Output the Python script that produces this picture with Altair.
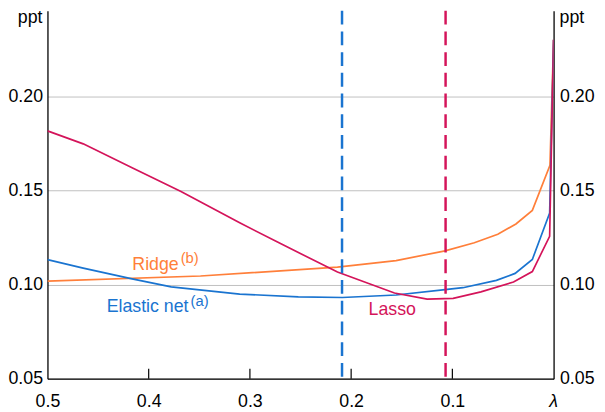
import altair as alt
import pandas as pd

# ---- data ----
lasso_lambda = [0.5, 0.4647, 0.4164, 0.3681, 0.3101, 0.2747, 0.2135, 0.1572, 0.1249, 0.0992, 0.0718, 0.0396, 0.0210, 0.0039, 0.0]
lasso_value = [0.1818, 0.1749, 0.1622, 0.1495, 0.1329, 0.1232, 0.1067, 0.0956, 0.0923, 0.0927, 0.0962, 0.1014, 0.1070, 0.1257, 0.2302]

enet_lambda = [0.5, 0.4647, 0.4164, 0.3778, 0.3101, 0.2522, 0.2087, 0.1556, 0.1072, 0.0896, 0.0565, 0.0380, 0.0210, 0.0039, 0.0]
enet_value = [0.1133, 0.1088, 0.1031, 0.0988, 0.0950, 0.0935, 0.0932, 0.0945, 0.0974, 0.0984, 0.1023, 0.1060, 0.1134, 0.1381, 0.2302]

ridge_lambda = [0.5, 0.3488, 0.2135, 0.1556, 0.1072, 0.0783, 0.0551, 0.0372, 0.0210, 0.0036, 0.0]
ridge_value = [0.1019, 0.1046, 0.1093, 0.1128, 0.1180, 0.1223, 0.1268, 0.1323, 0.1395, 0.1635, 0.2302]

cv_lambda_enet = [0.209]
cv_lambda_lasso = [0.1067]

x_ticks = [0.5, 0.4, 0.3, 0.2, 0.1]
x_inner_ticks = [0.4, 0.3, 0.2, 0.1]
y_ticks = [0.05, 0.10, 0.15, 0.20]

BLUE = "#1a74d0"
RED = "#d4145a"
ORANGE = "#ff7f3a"
FONT = "Liberation Sans"

W, H = 513, 373
y_top = 0.05 + H / 1906.0

xs = alt.Scale(domain=[0, 0.5], reverse=True, nice=False, zero=False)
ys = alt.Scale(domain=[0.05, y_top], nice=False, zero=False)

lasso_df = pd.DataFrame({"lam": lasso_lambda, "val": lasso_value})
enet_df = pd.DataFrame({"lam": enet_lambda, "val": enet_value})
ridge_df = pd.DataFrame({"lam": ridge_lambda, "val": ridge_value})

x_axis = alt.Axis(
    values=x_ticks, format=".1f",
    ticks=False, grid=False, domainColor="black", domainWidth=1.3,
    labelPadding=14, labelFontSize=18, labelFont=FONT, labelColor="black",
    labelFlush=False, labelOverlap=False, title=None,
)
y_axis_left = alt.Axis(
    values=y_ticks, format=".2f", ticks=False, grid=True, gridColor="#c0c0c0", gridWidth=1,
    domainColor="black", domainWidth=1.3, labelPadding=5, labelFontSize=18, labelFont=FONT,
    labelColor="black", title=None, labelOverlap=False,
)
y_axis_right = alt.Axis(
    values=y_ticks, format=".2f", ticks=False, grid=False, orient="right",
    domainColor="black", domainWidth=1.3, labelPadding=6, labelFontSize=18, labelFont=FONT,
    labelColor="black", title=None, labelOverlap=False,
)


def line(df, color):
    return alt.Chart(df).mark_line(color=color, strokeWidth=1.7, clip=True).encode(
        x=alt.X("lam:Q", scale=xs, axis=x_axis),
        y=alt.Y("val:Q", scale=ys, axis=y_axis_left),
    )


ridge = line(ridge_df, ORANGE)
enet = line(enet_df, BLUE)
lasso = line(lasso_df, RED)

rule_enet = alt.Chart(pd.DataFrame({"lam": cv_lambda_enet})).mark_rule(
    color=BLUE, strokeWidth=2.5, strokeDash=[14, 7]
).encode(x=alt.X("lam:Q", scale=xs, axis=x_axis))
rule_lasso = alt.Chart(pd.DataFrame({"lam": cv_lambda_lasso})).mark_rule(
    color=RED, strokeWidth=2.5, strokeDash=[14, 7]
).encode(x=alt.X("lam:Q", scale=xs, axis=x_axis))

inner_ticks = alt.Chart(pd.DataFrame({"lam": x_inner_ticks})).mark_rule(
    color="black", strokeWidth=1.2
).encode(x=alt.X("lam:Q", scale=xs, axis=x_axis), y=alt.value(H - 10), y2=alt.value(H))


def label(text, x, y, color, size=18, align="left", style="normal"):
    return alt.Chart(pd.DataFrame({"t": [text]})).mark_text(
        color=color, font=FONT, fontSize=size, align=align, baseline="alphabetic",
        fontStyle=style,
    ).encode(text="t:N", x=alt.value(x), y=alt.value(y))


labels = [
    label("Ridge", 86, 262.5, ORANGE),
    label("(b)", 135, 255.6, ORANGE, 15),
    label("Elastic net", 60, 305.3, BLUE),
    label("(a)", 145, 299.8, BLUE, 15),
    label("Lasso", 325.5, 308, RED),
    label("ppt", -5, 12, "black", 18, "right"),
    label("ppt", W + 6, 12, "black", 18, "left"),
    label("λ", W, H + 29, "black", 18, "center", "italic"),
]

right_axis_layer = alt.Chart(lasso_df).mark_line(opacity=0).encode(
    x=alt.X("lam:Q", scale=xs, axis=x_axis),
    y=alt.Y("val:Q", scale=ys, axis=y_axis_right),
)

main = alt.layer(ridge, enet, lasso, rule_enet, rule_lasso, inner_ticks, *labels)

chart = alt.layer(main, right_axis_layer).resolve_scale(y="independent").properties(
    width=W, height=H,
    autosize=alt.AutoSizeParams(type="none"),
    padding={"left": 40, "top": 0, "right": 44, "bottom": 31},
).configure_view(stroke=None)

chart.save("out.html", embed_options={"renderer": "svg", "actions": False})
